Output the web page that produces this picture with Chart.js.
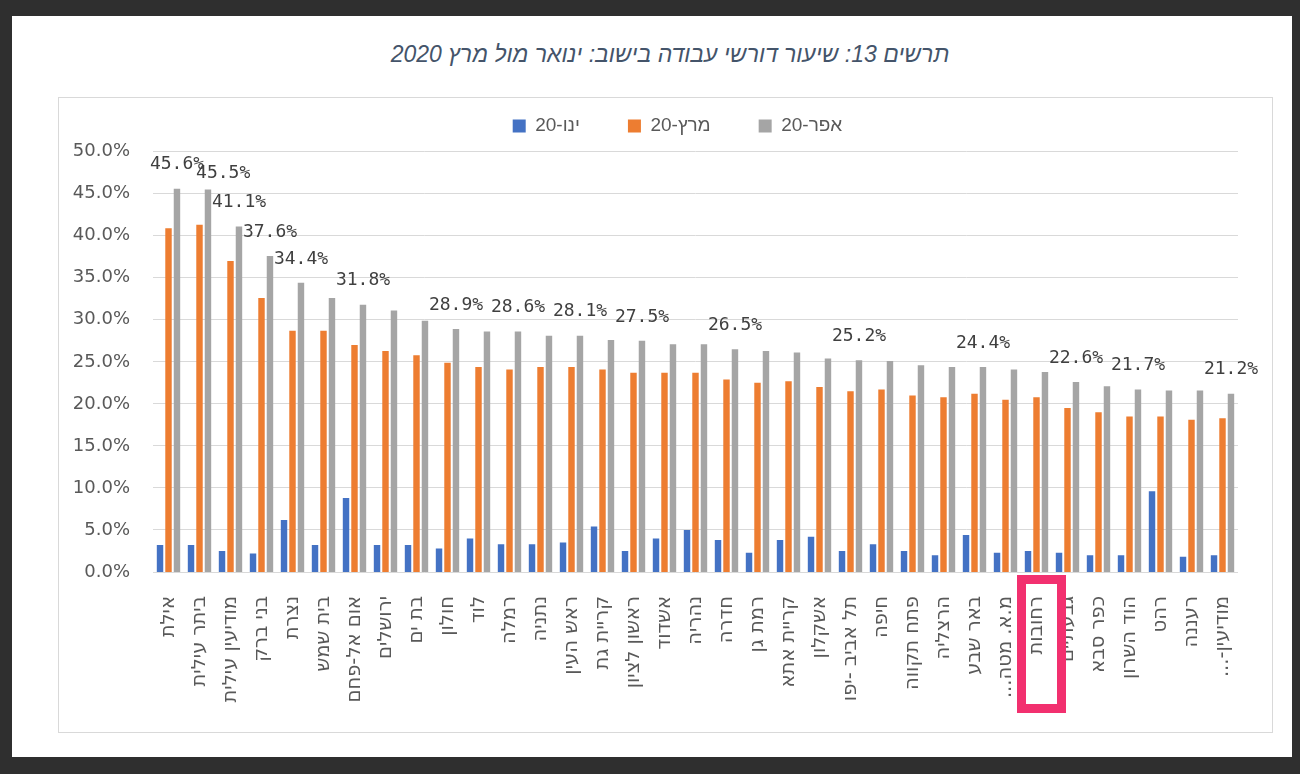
<!DOCTYPE html>
<html lang="he">
<head>
<meta charset="utf-8">
<script src="https://cdn.jsdelivr.net/npm/chart.js@4.4.1/dist/chart.umd.min.js"></script>
<style>
  html, body { margin: 0; padding: 0; background: #2f2f2f; }
  body { width: 1300px; height: 774px; position: relative; overflow: hidden; }
  #panel { position: absolute; left: 12px; top: 16px; width: 1280px; height: 741px; background: #fff; }
  #title { position: absolute; left: 30px; top: 41px; width: 1280px; text-align: center; direction: rtl;
           font: italic 23px "Liberation Sans", Arial, sans-serif; color: #44546A; }
  #box { position: absolute; left: 58px; top: 97px; width: 1213px; height: 634px; border: 1px solid #d9d9d9; }
  #box canvas { direction: rtl; }
</style>
</head>
<body>
<div id="panel"></div>
<div id="title">תרשים 13: שיעור דורשי עבודה בישוב: ינואר מול מרץ 2020</div>
<div id="box"><canvas id="barchart" width="1213" height="634"></canvas></div>
<script>
// Data
const categories = ['אילת','ביתר עילית','מודיעין עילית','בני ברק','נצרת','בית שמש','אום אל-פחם','ירושלים','בת ים','חולון',
  'לוד','רמלה','נתניה','ראש העין','קריית גת','ראשון לציון','אשדוד','נהריה','חדרה','רמת גן',
  'קריית אתא','אשקלון','תל אביב -יפו','חיפה','פתח תקווה','הרצליה','באר שבע','מ.א. מטה...','רחובות','גבעתיים',
  'כפר סבא','הוד השרון','רהט','רעננה','מודיעין-...'];
const seriesNames = ['ינו-20','מרץ-20','אפר-20'];
const janValues = [3.2,3.2,2.5,2.2,6.2,3.2,8.8,3.2,3.2,2.8,
  4.0,3.3,3.3,3.5,5.4,2.5,4.0,5.0,3.8,2.3,
  3.8,4.2,2.5,3.3,2.5,2.0,4.4,2.3,2.5,2.3,
  2.0,2.0,9.6,1.8,2.0];
const marValues = [40.9,41.3,37.0,32.6,28.7,28.7,27.0,26.3,25.8,24.9,
  24.4,24.1,24.4,24.4,24.1,23.7,23.7,23.7,22.9,22.5,
  22.7,22.0,21.5,21.7,21.0,20.8,21.2,20.5,20.8,19.5,
  19.0,18.5,18.5,18.1,18.3];
const aprValues = [45.6,45.5,41.1,37.6,34.4,32.6,31.8,31.1,29.9,28.9,
  28.6,28.6,28.1,28.1,27.6,27.5,27.1,27.1,26.5,26.3,
  26.1,25.4,25.2,25.1,24.6,24.4,24.4,24.1,23.8,22.6,
  22.1,21.7,21.6,21.6,21.2];
const seriesColors = ['#4472C4','#ED7D31','#A5A5A5'];
const yTicks = [0,5,10,15,20,25,30,35,40,45,50];
// cities whose April value is printed above the bar
const labeledCities = ['אילת','ביתר עילית','מודיעין עילית','בני ברק','נצרת','אום אל-פחם','חולון','רמלה','ראש העין',
  'ראשון לציון','חדרה','תל אביב -יפו','באר שבע','גבעתיים','הוד השרון','מודיעין-...'];
const highlightCity = 'רחובות';

// April value labels
const valueLabels = {
  id: 'valueLabels',
  afterDatasetsDraw(chart) {
    const ctx = chart.ctx;
    const meta = chart.getDatasetMeta(2);
    ctx.save();
    ctx.font = '18px "DejaVu Sans Mono"';
    ctx.fillStyle = '#404040';
    ctx.textAlign = 'center';
    ctx.textBaseline = 'middle';
    let prevRight = -Infinity, prevY = -Infinity;
    categories.forEach((name, i) => {
      if (!labeledCities.includes(name)) return;
      const bar = meta.data[i];
      const text = aprValues[i].toFixed(1) + '%';
      const w = ctx.measureText(text).width;
      let x = bar.x, y = bar.y - 24;
      // push aside when it runs into the previous label
      if (x - w / 2 < prevRight && Math.abs(y - prevY) < 16) {
        x = prevRight - 8 + w / 2;
        y = bar.y - 16;
      }
      ctx.fillText(text, x, y);
      prevRight = x + w / 2;
      prevY = y;
    });
    ctx.restore();
  }
};

// pink frame round one category label
const highlightBox = {
  id: 'highlightBox',
  afterDraw(chart) {
    const xScale = chart.scales.x;
    const idx = categories.indexOf(highlightCity);
    const cx = xScale.getPixelForValue(idx) + 5;
    const ctx = chart.ctx;
    ctx.save();
    ctx.strokeStyle = '#F2306F';
    ctx.lineWidth = 9;
    ctx.strokeRect(cx - 20, xScale.top + 7.5, 40, 129);
    ctx.restore();
  }
};

const hiddenAxis = (size) => ({
  display: true,
  grid: { display: false },
  border: { display: false },
  ticks: { display: false },
  afterFit: (s) => { if (s.isHorizontal()) s.height = size; else s.width = size; }
});

new Chart('barchart', {
  type: 'bar',
  data: {
    labels: categories,
    datasets: [janValues, marValues, aprValues].map((values, i) => ({
      label: seriesNames[i],
      data: values,
      backgroundColor: seriesColors[i],
      borderWidth: 0,
      barPercentage: 0.76,
      categoryPercentage: 0.82
    }))
  },
  options: {
    responsive: false,
    animation: false,
    layout: { padding: { top: -29.5, left: 0, right: -24, bottom: 0 } },
    plugins: {
      tooltip: { enabled: false },
      legend: {
        position: 'top',
        labels: {
          boxWidth: 13,
          boxHeight: 13,
          padding: 48,
          color: '#595959',
          font: { family: '"Liberation Sans", Arial, sans-serif', size: 19 }
        }
      }
    },
    scales: {
      xTop: Object.assign({ type: 'category', position: 'top' }, hiddenAxis(6.2)),
      yRight: Object.assign({ type: 'linear', position: 'right' }, hiddenAxis(58)),
      x: {
        grid: { display: false },
        border: { display: false },
        ticks: {
          autoSkip: false,
          minRotation: 90,
          maxRotation: 90,
          padding: 16,
          color: '#595959',
          font: { family: '"DejaVu Sans", sans-serif', size: 19.5 }
        },
        afterFit: (s) => { s.height = 160; }
      },
      y: {
        min: 0,
        max: 50,
        afterBuildTicks: (s) => { s.ticks = yTicks.map(v => ({ value: v })); },
        grid: { color: '#d9d9d9', drawTicks: false },
        border: { display: false },
        ticks: {
          padding: 23,
          color: '#595959',
          font: { family: '"DejaVu Sans", sans-serif', size: 18 },
          callback: (v) => v.toFixed(1) + '%'
        },
        afterFit: (s) => { s.width = 94; }
      }
    }
  },
  plugins: [valueLabels, highlightBox]
});
</script>
</body>
</html>
